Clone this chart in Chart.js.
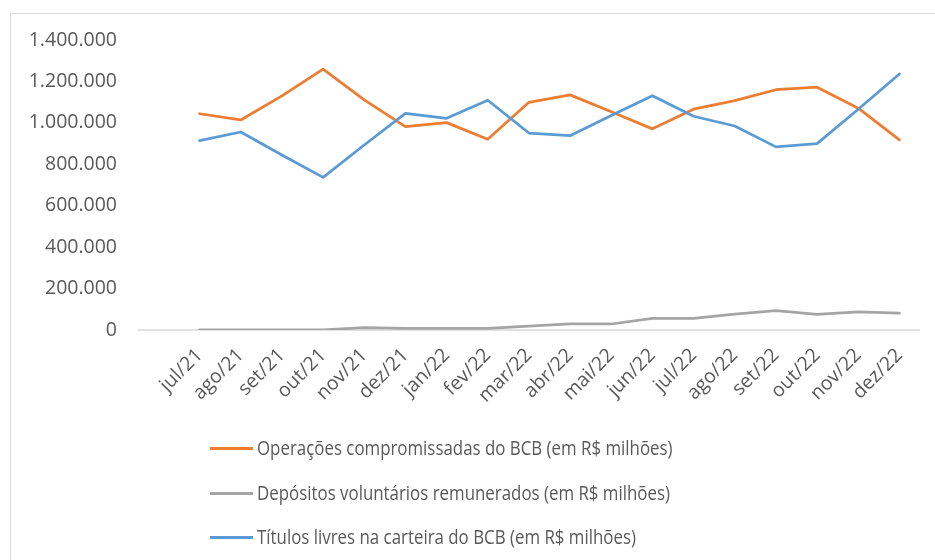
<!DOCTYPE html>
<html>
<head>
<meta charset="utf-8">
<script src="https://cdn.jsdelivr.net/npm/chart.js@4"></script>
<style>
    html, body { margin: 0; padding: 0; background: #fff; }
    #wrap { position: relative; width: 935px; height: 560px; overflow: hidden; }
    #frame { position: absolute; left: 10px; top: 13px; width: 1000px; height: 600px;
             border-left: 1px solid #d9d9d9; border-top: 1px solid #d9d9d9; }
    #chart { position: absolute; left: 0; top: 0; }
    #legend { position: absolute; left: 210px; top: 430px; font-family: "Open Sans", sans-serif;
              font-size: 19.5px; color: #595959; }
    #legend .item { height: 44.5px; line-height: 36px; white-space: nowrap; }
    #legend .swatch { display: inline-block; width: 43px; height: 3px; vertical-align: middle;
                      margin-right: 4px; position: relative; top: -1px; }
    #legend .txt { display: inline-block; transform: scaleX(0.865); transform-origin: left center; }
</style>
</head>
<body>
<div id="wrap">
    <div id="frame"></div>
    <canvas id="chart" width="935" height="560"></canvas>
    <div id="legend"></div>
</div>
<script>
// Dados (R$ milhões)
var meses = ['jul/21', 'ago/21', 'set/21', 'out/21', 'nov/21', 'dez/21', 'jan/22', 'fev/22', 'mar/22',
    'abr/22', 'mai/22', 'jun/22', 'jul/22', 'ago/22', 'set/22', 'out/22', 'nov/22', 'dez/22'];
var operacoes = [1044000, 1014000, 1130000, 1259000, 1111000, 982000, 1001000, 921000, 1099000,
    1135000, 1054000, 971000, 1066000, 1107000, 1160000, 1172000, 1071000, 918000];
var depositos = [1000, 1000, 1000, 1000, 11000, 8000, 8000, 8000, 19000,
    29000, 29000, 56000, 56000, 77000, 93000, 76000, 88000, 81000];
var titulos = [914000, 956000, 845000, 737000, 893000, 1046000, 1022000, 1109000, 951000,
    938000, 1035000, 1131000, 1032000, 985000, 884000, 900000, 1066000, 1236000];
var yTicks = [0, 200000, 400000, 600000, 800000, 1000000, 1200000, 1400000];

var fonte = '"Open Sans", sans-serif';
var cinzaTexto = '#595959';

function formatar(v) {
    return String(v).replace(/\B(?=(\d{3})+(?!\d))/g, '.');
}

// linha do eixo zero estendida para a esquerda (como no Excel)
var eixoZero = {
    id: 'eixoZero',
    beforeDatasetsDraw: function (chart) {
        var x = chart.scales.x, y = chart.scales.y, ctx = chart.ctx;
        var banda = x.getPixelForValue(1) - x.getPixelForValue(0);
        var py = y.getPixelForValue(0);
        ctx.save();
        ctx.strokeStyle = '#d9d9d9';
        ctx.lineWidth = 1.5;
        ctx.beginPath();
        ctx.moveTo(chart.chartArea.left - banda, py);
        ctx.lineTo(chart.chartArea.right, py);
        ctx.stroke();
        ctx.restore();
    }
};

var ctx = document.getElementById('chart').getContext('2d');
var grafico = new Chart(ctx, {
    type: 'line',
    data: {
        labels: meses,
        datasets: [
            { label: 'Operações compromissadas do BCB (em R$ milhões)', data: operacoes,
              borderColor: '#ED7D31', order: 2 },
            { label: 'Depósitos voluntários remunerados (em R$ milhões)', data: depositos,
              borderColor: '#A5A5A5', order: 1 },
            { label: 'Títulos livres na carteira do BCB (em R$ milhões)', data: titulos,
              borderColor: '#5B9BD5', order: 0 }
        ]
    },
    options: {
        responsive: false,
        animation: false,
        layout: { padding: { top: 40, right: 15, left: 0, bottom: 0 } },
        elements: {
            line: { borderWidth: 2.75, tension: 0, borderCapStyle: 'round', borderJoinStyle: 'round', fill: false },
            point: { radius: 0, hoverRadius: 0 }
        },
        plugins: {
            legend: { display: false },
            tooltip: { enabled: false }
        },
        scales: {
            x: {
                offset: true,
                grid: { display: false, drawTicks: false },
                border: { display: false },
                ticks: {
                    color: cinzaTexto,
                    font: { family: fonte, size: 19.5 },
                    minRotation: 45, maxRotation: 45,
                    padding: 14,
                    autoSkip: false
                },
                afterFit: function (s) { s.height = 230; }
            },
            y: {
                min: 0, max: 1400000,
                grid: { display: false, drawTicks: false },
                border: { display: false },
                afterBuildTicks: function (s) { s.ticks = yTicks.map(function (v) { return { value: v }; }); },
                ticks: {
                    color: cinzaTexto,
                    font: { family: fonte, size: 19.5 },
                    padding: 62,
                    callback: function (v) { return formatar(v); }
                },
                afterFit: function (s) {
                    s.width = 179;
                    // o padding dos rótulos não deve empurrar a área do gráfico
                    s.paddingTop = 10;
                    s.paddingBottom = 10;
                }
            }
        }
    },
    plugins: [eixoZero]
});

// legenda em HTML, alinhada à esquerda como no original
var legenda = document.getElementById('legend');
grafico.data.datasets.forEach(function (ds) {
    var item = document.createElement('div');
    item.className = 'item';
    var sw = document.createElement('span');
    sw.className = 'swatch';
    sw.style.background = ds.borderColor;
    var txt = document.createElement('span');
    txt.className = 'txt';
    txt.textContent = ds.label;
    item.appendChild(sw);
    item.appendChild(txt);
    legenda.appendChild(item);
});
</script>
</body>
</html>
